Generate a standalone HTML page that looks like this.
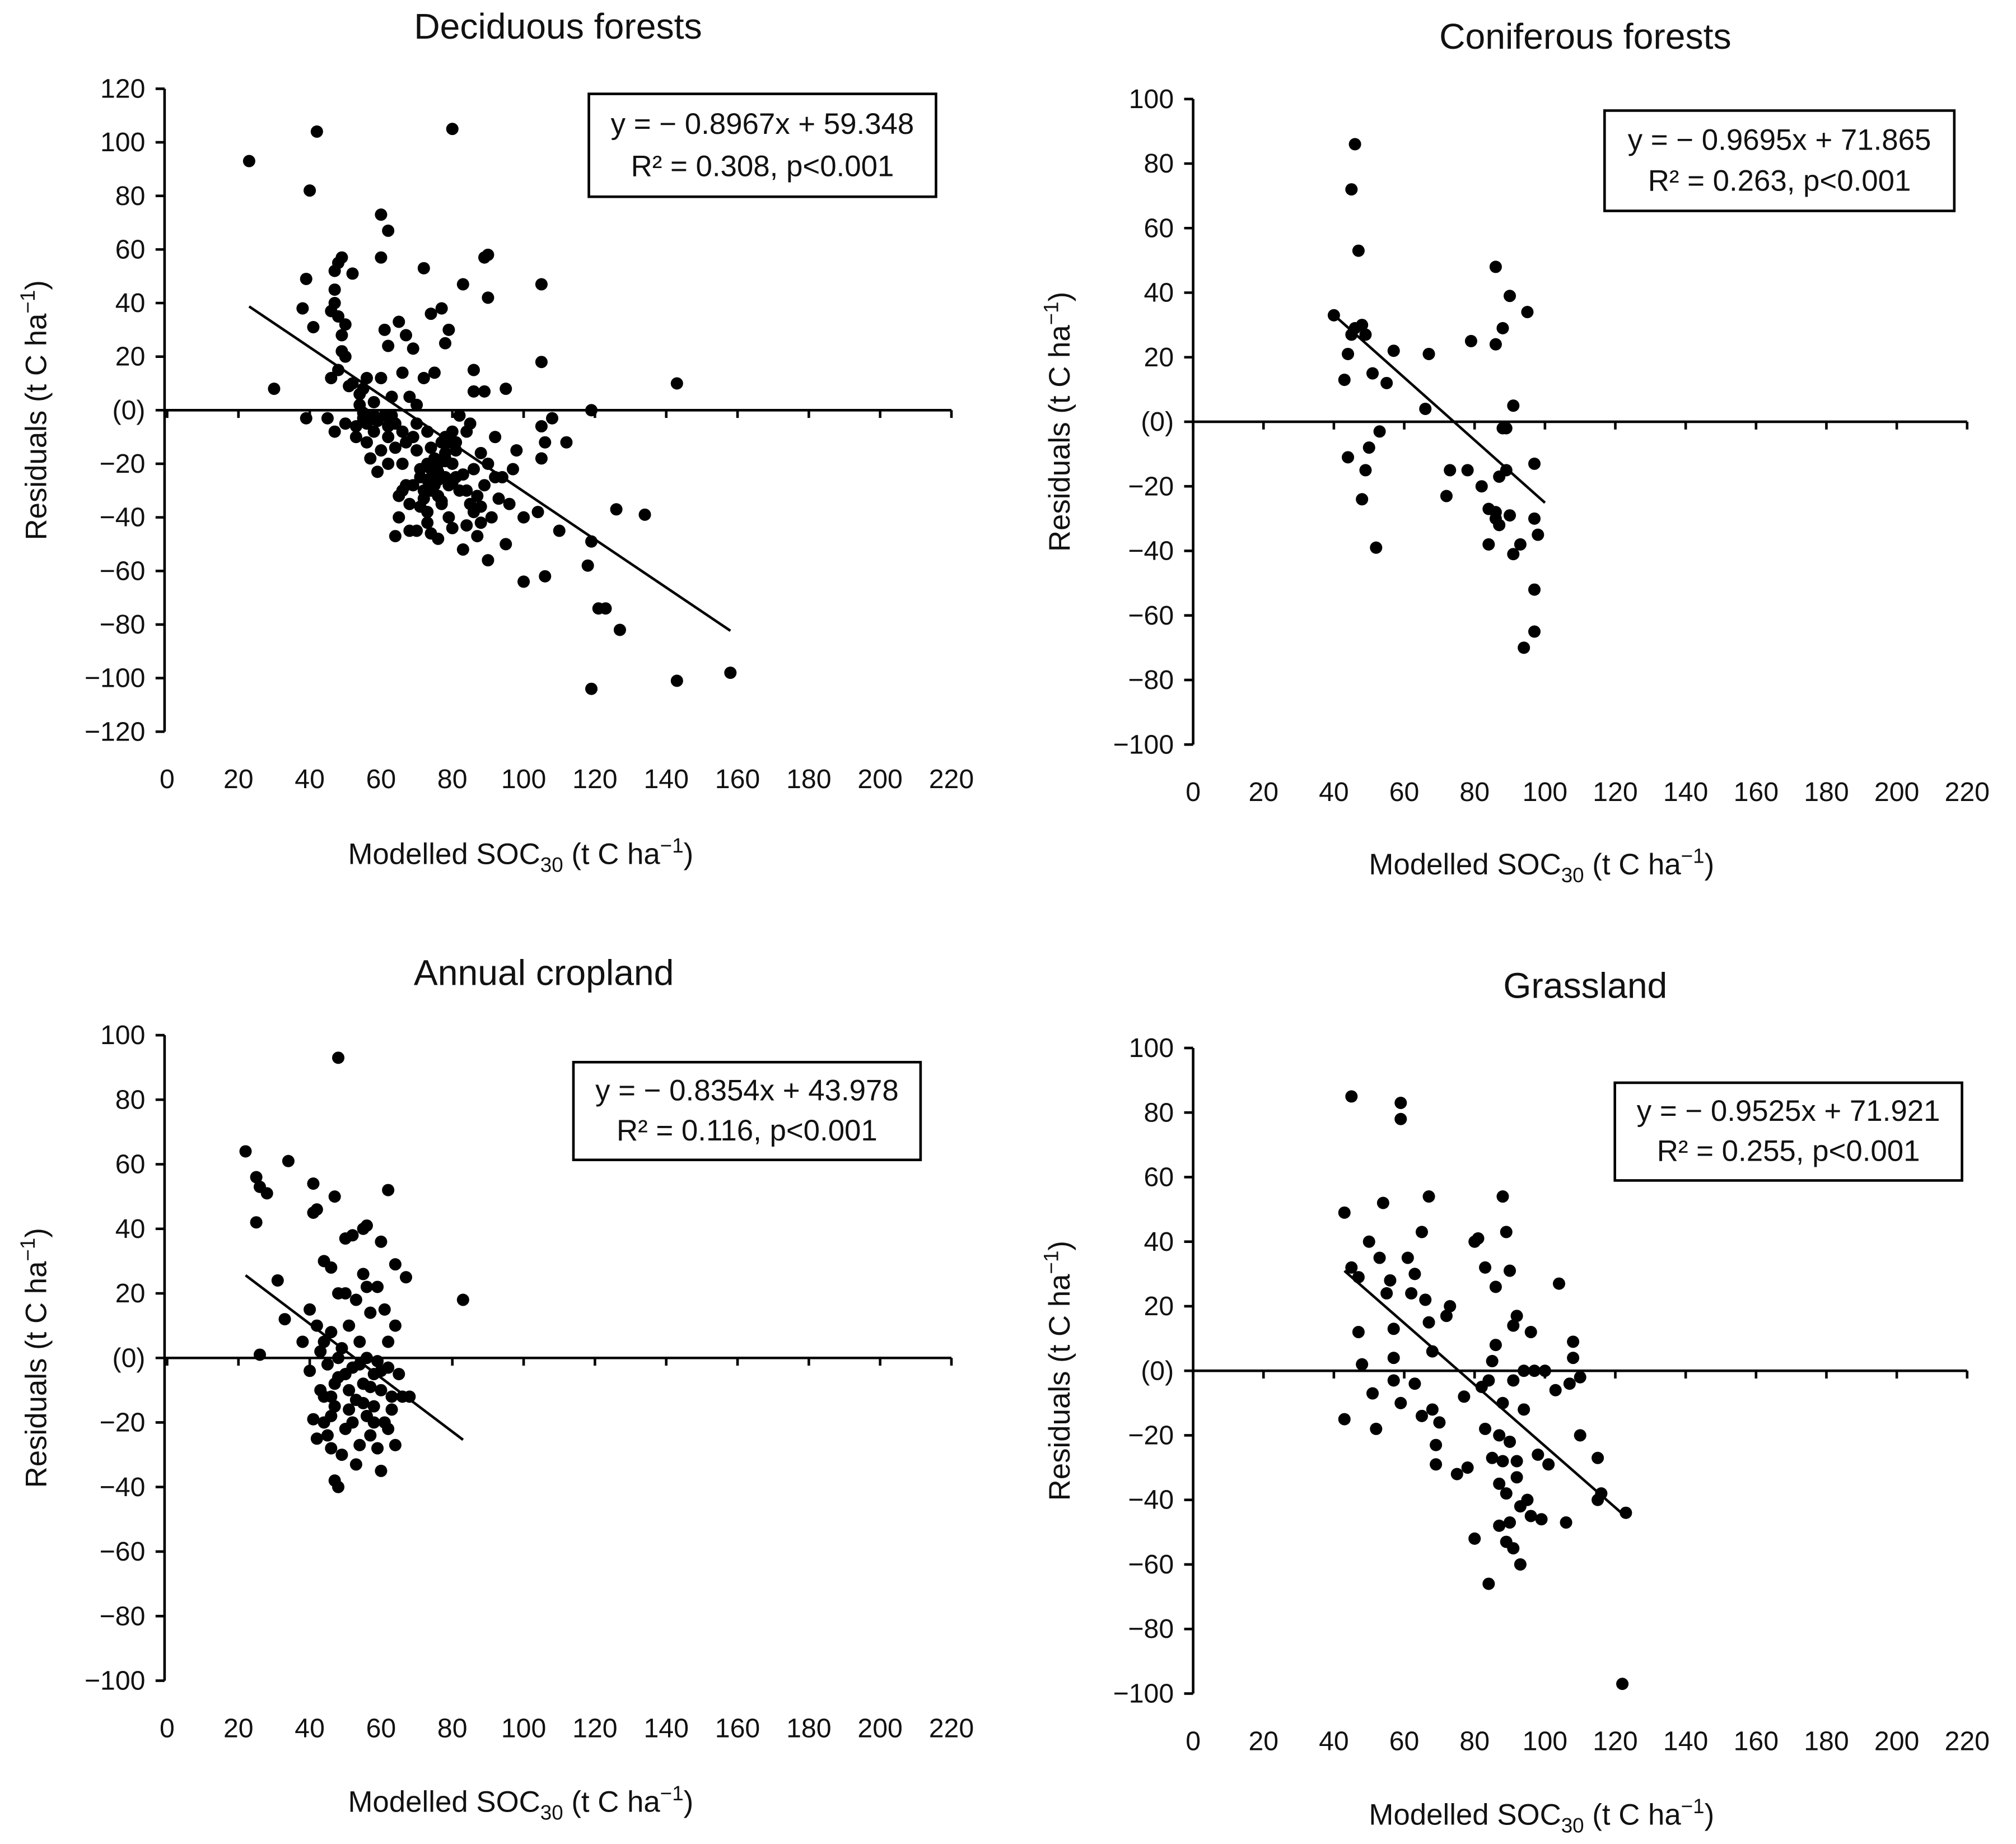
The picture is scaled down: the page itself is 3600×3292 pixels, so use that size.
<!DOCTYPE html>
<html><head><meta charset="utf-8"><style>
html,body{margin:0;padding:0;background:#fff;}
svg{display:block;font-family:"Liberation Sans","DejaVu Sans",sans-serif;}
</style></head><body>
<svg id="fig" width="3600" height="3292" viewBox="0 0 1568 1434" preserveAspectRatio="none" xmlns="http://www.w3.org/2000/svg"></svg>
<script>
const decX=[23,42,80,30,40,39,38,41,47,48,49,52,47,47,48,46,49,50,49,46,52,55,54,56,60,62,60,61,62,60,63,65,67,69,72,74,77,79,78,83,89,90,90,86,86,89,95,105,105,119,143,39,45,47,50,53,55,56,58,60,62,62,64,65,64,66,67,68,70,71,72,73,73,74,75,75,76,77,78,79,80,80,82,83,84,85,86,87,88,89,90,91,92,94,95,96,98,100,100,104,105,105,106,106,108,110,112,118,119,121,123,119,126,127,134,143,158,70,68,74,76,78,80,73,70,72,75,66,68,63,57,59,53,51,58,55,82,85,90,93,88,81,77,79,66,69,
 71,73,74,75,76,77,78,79,72,74,76,78,80,81,83,84,86,88,70,69,67,65,62,61,59,64,66,71,73,76,78,81,84,87,92,97,48,50,56,58,54];
const decY=[93,104,105,8,82,49,38,31,52,55,57,51,45,40,35,37,28,20,22,12,10,8,2,12,73,67,57,30,24,12,5,33,28,23,53,36,38,30,25,47,57,58,42,15,7,7,8,47,18,0,10,-3,-3,-8,-5,-10,-3,-12,-8,-15,-20,-10,-5,-40,-47,-20,-28,-35,-15,-25,-30,-38,-20,-22,-18,-28,-32,-12,-25,-40,-8,-20,-30,-52,-43,-35,-22,-47,-16,-28,-56,-40,-10,-25,-50,-35,-15,-40,-64,-38,-6,-18,-12,-62,-3,-45,-12,-58,-49,-74,-74,-104,-37,-82,-39,-101,-98,-45,-45,-46,-48,-10,-44,-8,2,12,14,14,5,-2,-18,-23,-6,9,3,-1,-2,-5,-20,-33,-36,-25,-35,-12,-8,-10,
 -22,-26,-30,-24,-20,-34,-16,-28,-33,-14,-23,-19,-27,-15,-24,-30,-38,-42,-5,-28,-12,-32,-6,-2,-4,-14,-30,-36,-42,-26,-18,-12,-8,-32,-25,-22,15,32,-5,-2,6];
const conX=[40,43,44,45,46,47,46,48,49,45,44,48,49,50,51,52,53,55,57,67,66,72,73,78,79,82,84,84,86,86,86,87,87,88,88,89,89,90,90,91,91,93,94,95,97,97,98,97,97,86];
const conY=[33,13,21,72,86,53,29,30,27,27,-11,-24,-15,-8,15,-39,-3,12,22,21,4,-23,-15,-15,25,-20,-27,-38,-28,24,48,-17,-32,-2,29,-15,-2,-29,39,-41,5,-38,-70,34,-13,-30,-35,-52,-65,-30];
const croX=[22,25,26,25,28,26,31,33,34,38,40,41,41,42,44,46,47,48,50,52,55,56,60,62,64,67,83,40,41,42,43,44,44,45,46,46,47,47,48,48,49,50,50,51,51,52,53,53,54,54,55,55,56,56,57,57,58,58,59,59,60,60,61,61,62,62,63,63,64,64,65,66,68,52,49,46,43,50,48,47,56,53,59,62,44,46,48,51,54,57,60,42,45,55,58];
const croY=[64,56,53,42,51,1,24,12,61,5,15,54,45,46,30,28,50,93,37,38,40,41,36,52,29,25,18,-4,-19,-25,-10,5,-20,-2,-28,8,-38,-15,-40,20,-30,-5,-22,10,-10,-20,-13,18,-27,5,-8,26,-18,0,14,-24,-5,-15,22,-28,-35,-10,15,-20,-3,5,-16,-12,10,-27,-5,-12,-12,-3,3,-12,2,20,0,-8,22,-33,-1,-22,-12,-18,-6,-16,-2,-9,-4,10,-24,-14,-20];
const graX=[43,43,45,45,47,47,48,50,51,52,53,54,55,56,57,57,57,59,59,59,61,62,63,63,65,65,66,67,67,68,68,69,69,70,72,73,75,77,78,80,80,81,82,83,83,84,85,85,86,86,87,87,88,88,88,89,89,89,90,90,90,91,91,91,92,92,93,93,94,94,95,96,96,97,98,99,100,101,103,104,106,107,108,108,110,110,115,115,116,122,123,87,84,92];
const graY=[49,-15,85,32,29,12,2,40,-7,-18,35,52,24,28,13,-3,4,83,78,-10,35,24,-4,30,43,-14,22,54,15,-12,6,-29,-23,-16,17,20,-32,-8,-30,40,-52,41,-5,32,-18,-66,-27,3,8,26,-48,-35,54,-10,-28,43,-38,-53,31,-22,-47,14,-55,-3,17,-33,-42,-60,0,-12,-40,-45,12,0,-26,-46,0,-29,-6,27,-47,-4,9,4,-2,-20,-27,-40,-38,-97,-44,-20,-3,-28];
const xTicks=[0,20,40,60,80,100,120,140,160,180,200,220];
const decYTicks=[120,100,80,60,40,20,0,-20,-40,-60,-80,-100,-120];
const stdYTicks=[100,80,60,40,20,0,-20,-40,-60,-80,-100];
const slopes=[-0.8967,-0.9695,-0.8354,-0.9525];
const intercepts=[59.348,71.865,43.978,71.921];
const fitRanges=[[23,158],[40,100],[22,83],[43,123]];
const titles=["Deciduous forests","Coniferous forests","Annual cropland","Grassland"];
const eqTexts=["y = \u2212 0.8967x + 59.348","y = \u2212 0.9695x + 71.865","y = \u2212 0.8354x + 43.978","y = \u2212 0.9525x + 71.921"];
const r2Texts=["R\u00B2 = 0.308, p<0.001","R\u00B2 = 0.263, p<0.001","R\u00B2 = 0.116, p<0.001","R\u00B2 = 0.255, p<0.001"];

const NS="http://www.w3.org/2000/svg";
const svg=document.getElementById('fig');
function mk(tag,attrs,parent,txt){const e=document.createElementNS(NS,tag);for(const k in attrs)e.setAttribute(k,attrs[k]);if(txt!==undefined)e.textContent=txt;parent.appendChild(e);return e;}

const panels=[
 {ax:128,x0:130,x1:740,yTop:69,yBot:569,ymax:120,ymin:-120,ticks:decYTicks,xs:decX,ys:decY,tx:434,ty:30,box:[458,73,270,80],xlY:605,xtY:672,ylX:30},
 {ax:928,x0:928,x1:1530,yTop:77,yBot:579,ymax:100,ymin:-100,ticks:stdYTicks,xs:conX,ys:conY,tx:1233,ty:38,box:[1248,86,272,78],xlY:615,xtY:680,ylX:826},
 {ax:128,x0:130,x1:740,yTop:805,yBot:1307,ymax:100,ymin:-100,ticks:stdYTicks,xs:croX,ys:croY,tx:423,ty:766,box:[446,826,270,76],xlY:1343,xtY:1409,ylX:30},
 {ax:928,x0:928,x1:1530,yTop:815,yBot:1317,ymax:100,ymin:-100,ticks:stdYTicks,xs:graX,ys:graY,tx:1233,ty:776,box:[1256,842,270,76],xlY:1353,xtY:1419,ylX:826}
];
const names=["deciduous","coniferous","cropland","grassland"];
panels.forEach((p,i)=>{
 const g=mk('g',{},svg);
 
 
 const sx=v=>p.x0+(v/220)*(p.x1-p.x0);
 const sy=v=>p.yTop+(p.ymax-v)/(p.ymax-p.ymin)*(p.yBot-p.yTop);
 const t=mk('text',{x:p.tx,y:p.ty,'text-anchor':'middle','font-size':28,fill:'#111'},g,titles[i]);
 
 
 const ya=mk('line',{x1:p.ax,x2:p.ax,y1:p.yTop,y2:p.yBot,stroke:'#000','stroke-width':2},g);
 
 
 p.ticks.forEach(v=>{
  mk('line',{x1:p.ax-7,x2:p.ax,y1:sy(v),y2:sy(v),stroke:'#000','stroke-width':2},g);
  const lab=mk('text',{x:p.ax-15,y:sy(v)+7,'text-anchor':'end','font-size':21,fill:'#111'},g,v===0?'(0)':(v<0?'\u2212'+(-v):String(v)));
  
  
 });
 const xa=mk('line',{x1:p.ax,x2:p.x1,y1:sy(0),y2:sy(0),stroke:'#000','stroke-width':2},g);
 
 
 xTicks.forEach(v=>{
  mk('line',{x1:sx(v),x2:sx(v),y1:sy(0),y2:sy(0)+6,stroke:'#000','stroke-width':2},g);
  const lab=mk('text',{x:sx(v),y:p.xlY+8,'text-anchor':'middle','font-size':21,fill:'#111'},g,String(v));
  
  
 });
 const xt=mk('text',{x:(p.x0+p.x1)/2-30,y:p.xtY,'text-anchor':'middle','font-size':23,fill:'#111'},g);
 
 
 mk('tspan',{},xt,'Modelled SOC');
 mk('tspan',{'font-size':16,dy:6},xt,'30');
 mk('tspan',{dy:-6},xt,' (t C ha');
 mk('tspan',{'font-size':16,dy:-9},xt,'\u22121');
 mk('tspan',{dy:9},xt,')');
 const cy=(p.yTop+p.yBot)/2;
 const yt=mk('text',{x:0,y:0,'text-anchor':'middle','font-size':23,fill:'#111',transform:`translate(${p.ylX+6},${cy}) rotate(-90)`},g);
 
 
 mk('tspan',{},yt,i===3?'Residuals (t C ha':'Residuals  (t C ha');
 mk('tspan',{'font-size':16,dy:-9},yt,'\u22121');
 mk('tspan',{dy:9},yt,')');
 for(let k=0;k<p.xs.length;k++){
  const c=mk('circle',{cx:sx(p.xs[k]),cy:sy(p.ys[k]),r:4.8,fill:'#000'},g);
  
  
 }
 const [a,b]=fitRanges[i];
 const fl=mk('line',{x1:sx(a),y1:sy(intercepts[i]+slopes[i]*a),x2:sx(b),y2:sy(intercepts[i]+slopes[i]*b),stroke:'#000','stroke-width':2},g);
 
 
 const [bx,by,bw,bh]=p.box;
 const bg=mk('g',{},g);
 
 
 mk('rect',{x:bx,y:by,width:bw,height:bh,fill:'#fff',stroke:'#000','stroke-width':2},bg);
 mk('text',{x:bx+bw/2,y:by+bh*0.39,'text-anchor':'middle','font-size':23,fill:'#111'},bg,eqTexts[i]);
 mk('text',{x:bx+bw/2,y:by+bh*0.8,'text-anchor':'middle','font-size':23,fill:'#111'},bg,r2Texts[i]);
});
</script>
</body></html>
